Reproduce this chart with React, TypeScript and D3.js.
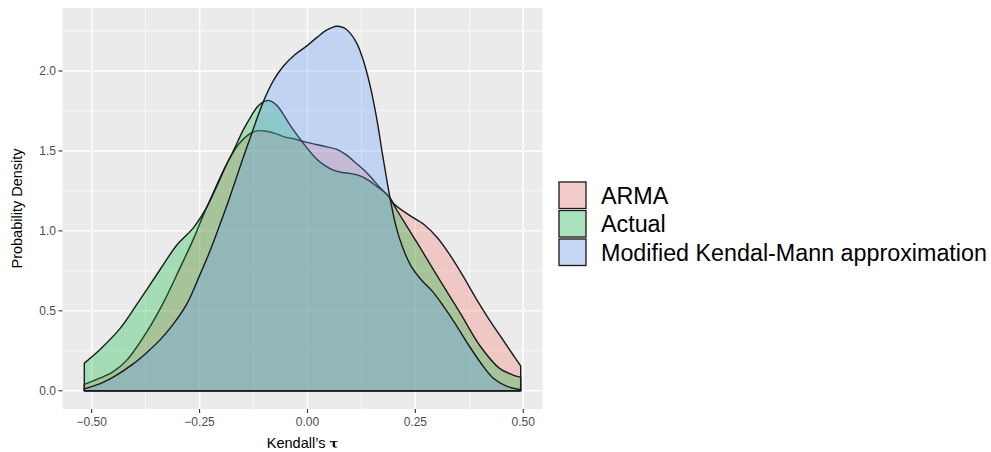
import React from 'react';
import * as d3 from 'd3';

// values
const armaTau = [-0.517, -0.48, -0.45, -0.419, -0.372, -0.334, -0.295, -0.264, -0.241, -0.218, -0.187, -0.16, -0.135, -0.118, -0.1, -0.075, -0.056, -0.03, -0.01, 0.021, 0.045, 0.068, 0.09, 0.114, 0.135, 0.152, 0.17, 0.19, 0.2, 0.235, 0.27, 0.3, 0.33, 0.36, 0.39, 0.42, 0.45, 0.475, 0.494];
const armaDensity = [0.04, 0.08, 0.12, 0.19, 0.37, 0.55, 0.77, 0.95, 1.1, 1.24, 1.42, 1.54, 1.605, 1.625, 1.625, 1.61, 1.59, 1.575, 1.56, 1.54, 1.525, 1.51, 1.475, 1.42, 1.37, 1.32, 1.265, 1.21, 1.17, 1.1, 1.04, 0.96, 0.85, 0.72, 0.58, 0.45, 0.33, 0.23, 0.156];

const actualTau = [-0.517, -0.48, -0.434, -0.388, -0.341, -0.303, -0.264, -0.233, -0.21, -0.19, -0.17, -0.149, -0.13, -0.115, -0.1, -0.088, -0.071, -0.055, -0.04, -0.01, 0.021, 0.04, 0.06, 0.08, 0.098, 0.115, 0.13, 0.145, 0.16, 0.175, 0.19, 0.205, 0.23, 0.26, 0.307, 0.353, 0.4, 0.445, 0.475, 0.494];
const actualDensity = [0.173, 0.26, 0.39, 0.57, 0.76, 0.91, 1.02, 1.15, 1.28, 1.4, 1.51, 1.63, 1.72, 1.78, 1.81, 1.815, 1.785, 1.725, 1.66, 1.55, 1.45, 1.41, 1.38, 1.365, 1.36, 1.35, 1.335, 1.31, 1.28, 1.25, 1.21, 1.14, 1.03, 0.9, 0.69, 0.49, 0.28, 0.14, 0.1, 0.085];

const mkTau = [-0.517, -0.48, -0.45, -0.403, -0.372, -0.341, -0.31, -0.28, -0.25, -0.225, -0.2, -0.18, -0.15, -0.133, -0.102, -0.079, -0.056, -0.03, 0.0, 0.022, 0.044, 0.068, 0.085, 0.098, 0.115, 0.129, 0.145, 0.16, 0.175, 0.191, 0.205, 0.22, 0.24, 0.265, 0.29, 0.315, 0.34, 0.37, 0.4, 0.43, 0.46, 0.494];
const mkDensity = [0.012, 0.045, 0.085, 0.17, 0.24, 0.32, 0.42, 0.54, 0.72, 0.88, 1.06, 1.21, 1.45, 1.58, 1.81, 1.94, 2.03, 2.1, 2.16, 2.21, 2.255, 2.28, 2.27, 2.24, 2.17, 2.07, 1.91, 1.71, 1.46, 1.21, 1.03, 0.9, 0.78, 0.69, 0.62, 0.53, 0.43, 0.3, 0.18, 0.08, 0.03, 0.006];

const seriesNames = ['ARMA', 'Actual', 'Modified Kendal-Mann approximation'];
const seriesColors = ['#F8766D', '#00BA38', '#619CFF'];
const xTicks = [-0.5, -0.25, 0, 0.25, 0.5];
const xMinor = [-0.375, -0.125, 0.125, 0.375];
const yTicks = [0, 0.5, 1, 1.5, 2];
const yMinor = [0.25, 0.75, 1.25, 1.75, 2.25];

const W = 991;
const H = 452;
const panel = { left: 62.5, right: 542.5, top: 8, bottom: 409 };
const font = '"Liberation Sans", Arial, Helvetica, sans-serif';
const minus = (s: string) => s.replace('-', '\u2212');

export default function App() {
  const series = [
    { tau: armaTau, dens: armaDensity },
    { tau: actualTau, dens: actualDensity },
    { tau: mkTau, dens: mkDensity },
  ];

  const allTau = series.flatMap(s => s.tau);
  const xMin = d3.min(allTau)!;
  const xMax = d3.max(allTau)!;
  const xPad = (xMax - xMin) * 0.05;
  const yMax = d3.max(series.flatMap(s => s.dens))!;
  const yPad = yMax * 0.05;

  const x = d3.scaleLinear().domain([xMin - xPad, xMax + xPad]).range([panel.left, panel.right]);
  const y = d3.scaleLinear().domain([-yPad, yMax + yPad]).range([panel.bottom, panel.top]);

  const area = d3.area<[number, number]>()
    .x(d => x(d[0]))
    .y0(y(0))
    .y1(d => y(d[1]))
    .curve(d3.curveCatmullRom.alpha(0.5));

  const fmtX = d3.format('.2f');
  const fmtY = d3.format('.1f');

  const keyTop = 181;
  const keyH = 28.5;

  return (
    <svg width={W} height={H} style={{ position: 'absolute', left: 0, top: 0, background: '#fff' }} fontFamily={font}>
      <rect x={panel.left} y={panel.top} width={panel.right - panel.left} height={panel.bottom - panel.top} fill="#EBEBEB" />
      {/* minor grid */}
      {xMinor.map(v => (
        <line key={'xm' + v} x1={x(v)} x2={x(v)} y1={panel.top} y2={panel.bottom} stroke="#fff" strokeWidth={0.7} />
      ))}
      {yMinor.map(v => (
        <line key={'ym' + v} x1={panel.left} x2={panel.right} y1={y(v)} y2={y(v)} stroke="#fff" strokeWidth={0.7} />
      ))}
      {/* major grid */}
      {xTicks.map(v => (
        <line key={'xM' + v} x1={x(v)} x2={x(v)} y1={panel.top} y2={panel.bottom} stroke="#fff" strokeWidth={1.4} />
      ))}
      {yTicks.map(v => (
        <line key={'yM' + v} x1={panel.left} x2={panel.right} y1={y(v)} y2={y(v)} stroke="#fff" strokeWidth={1.4} />
      ))}

      {/* density areas, drawn in group order */}
      {series.map((s, i) => {
        const pts = s.tau.map((t, j) => [t, s.dens[j]] as [number, number]);
        return (
          <path key={seriesNames[i]} d={area(pts) || ''} fill={seriesColors[i]} fillOpacity={0.3}
            stroke="#1a1a1a" strokeWidth={1.4} strokeLinejoin="round" />
        );
      })}

      {/* axes */}
      {xTicks.map(v => (
        <g key={'xt' + v}>
          <line x1={x(v)} x2={x(v)} y1={panel.bottom} y2={panel.bottom + 4} stroke="#333" strokeWidth={1.1} />
          <text x={x(v)} y={panel.bottom + 17} textAnchor="middle" fontSize={12} fill="#4D4D4D">{minus(fmtX(v))}</text>
        </g>
      ))}
      {yTicks.map(v => (
        <g key={'yt' + v}>
          <line x1={panel.left - 4} x2={panel.left} y1={y(v)} y2={y(v)} stroke="#333" strokeWidth={1.1} />
          <text x={panel.left - 6.5} y={y(v)} dy="0.36em" textAnchor="end" fontSize={12} fill="#4D4D4D">{fmtY(v)}</text>
        </g>
      ))}
      <text x={(panel.left + panel.right) / 2} y={448} textAnchor="middle" fontSize={14.5} fill="#000">
        Kendall’s <tspan fontFamily='"DejaVu Serif", serif' fontWeight="bold" fontSize={13}>τ</tspan>
      </text>
      <text transform={`translate(22,${(panel.top + panel.bottom) / 2}) rotate(-90)`} textAnchor="middle" fontSize={14.5} fill="#000">
        Probability Density
      </text>

      {/* legend */}
      {seriesNames.map((name, i) => (
        <g key={'lg' + name}>
          <rect x={558} y={keyTop + i * keyH} width={29} height={keyH} fill="#F2F2F2" />
          <rect x={559} y={keyTop + i * keyH + 1} width={27} height={keyH - 2} fill={seriesColors[i]} fillOpacity={0.3}
            stroke="#1a1a1a" strokeWidth={1.3} />
          <text x={601} y={keyTop + i * keyH + keyH / 2} dy="0.36em" fontSize={23.3} fill="#000">{name}</text>
        </g>
      ))}
    </svg>
  );
}
